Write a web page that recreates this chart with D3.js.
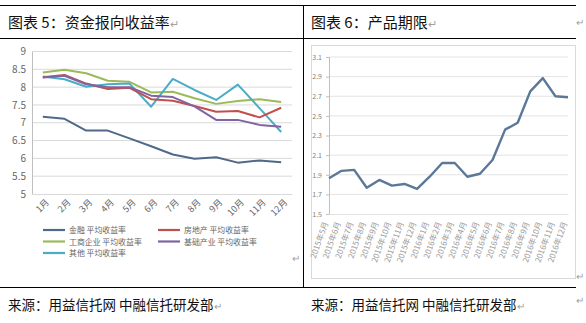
<!DOCTYPE html>
<html><head><meta charset="utf-8">
<script src="https://cdn.jsdelivr.net/npm/d3@7"></script>
<style>
html,body{margin:0;padding:0;background:#fff;}
svg{display:block;}
text{font-family:"Noto Sans CJK SC","Noto Sans",sans-serif;}
</style></head><body>
<svg id="c" width="586" height="323"></svg>
<script>
// ---- Left chart data (图表5) ----
const months = ["1月","2月","3月","4月","5月","6月","7月","8月","9月","10月","11月","12月"];
const finance     = [7.17,7.11,6.78,6.78,6.56,6.34,6.11,5.99,6.03,5.88,5.94,5.89];
const realEstate  = [8.28,8.34,8.10,7.95,7.98,7.66,7.62,7.47,7.31,7.33,7.15,7.42];
const industrial  = [8.41,8.49,8.39,8.18,8.15,7.85,7.87,7.69,7.53,7.61,7.66,7.58];
const infra       = [8.27,8.32,8.08,8.00,8.00,7.76,7.72,7.46,7.08,7.08,6.94,6.89];
const others      = [8.30,8.22,8.01,8.08,8.10,7.45,8.23,7.92,7.64,8.07,7.41,6.74];
const seriesNames = ["金融 平均收益率","房地产 平均收益率","工商企业 平均收益率","基础产业 平均收益率","其他 平均收益率"];
const leftTicks = [5,5.5,6,6.5,7,7.5,8,8.5,9];

// ---- Right chart data (图表6) ----
const periods = ["2015年5月","2015年6月","2015年7月","2015年8月","2015年9月","2015年10月","2015年11月","2015年12月",
  "2016年1月","2016年2月","2016年3月","2016年4月","2016年5月","2016年6月","2016年7月","2016年8月",
  "2016年9月","2016年10月","2016年11月","2016年12月"];
const term = [1.864,1.94,1.95,1.768,1.847,1.789,1.806,1.755,1.88,2.02,2.02,1.88,1.91,2.05,2.36,2.43,2.75,2.885,2.70,2.69];
const rightTicks = [1.5,1.7,1.9,2.1,2.3,2.5,2.7,2.9,3.1];

const svg = d3.select("#c");
const colors = ["#50698A","#C0504D","#9BBB59","#8064A2","#4BACC6"];
const allSeries = [finance, realEstate, industrial, infra, others];

// ---- table frame ----
const frame = svg.append("g").attr("stroke","#000").attr("stroke-width",1);
frame.append("line").attr("x1",0).attr("x2",576).attr("y1",5.5).attr("y2",5.5);
frame.append("line").attr("x1",0).attr("x2",576).attr("y1",38.5).attr("y2",38.5);
frame.append("line").attr("x1",0).attr("x2",576).attr("y1",287.5).attr("y2",287.5);
frame.append("line").attr("x1",303.5).attr("x2",303.5).attr("y1",5).attr("y2",288);

function para(x,y,size,txt){
  const t = svg.append("text").attr("x",x).attr("y",y).attr("font-size",size).attr("fill","#111").text(txt);
  t.append("tspan").attr("fill","#A0A0A0").attr("font-size",size*0.75).text("↵");
  return t;
}
para(8,28,15,"图表 5：资金报向收益率");
para(311,28,15,"图表 6：产品期限");
para(8,310,13.5,"来源：用益信托网 中融信托研发部");
para(311,310,13.5,"来源：用益信托网 中融信托研发部");
const retMark = (x,y)=>svg.append("text").attr("x",x).attr("y",y).attr("font-size",10).attr("fill","#A0A0A0").text("↵");
retMark(576,26); retMark(576,304); retMark(292,262); retMark(576,280);

// ---- LEFT CHART ----
const xL = d3.scaleBand().domain(months).range([32,292]).padding(0);
const yL = d3.scaleLinear().domain([5,9]).range([194,51.5]);
const gL = svg.append("g");
gL.append("g").selectAll("line").data(leftTicks.slice(1)).join("line")
  .attr("x1",32).attr("x2",292).attr("y1",d=>yL(d)).attr("y2",d=>yL(d))
  .attr("stroke","#D9D9D9").attr("stroke-width",1);
const axL = gL.append("g").attr("transform","translate(32,0)")
  .call(d3.axisLeft(yL).tickValues(leftTicks).tickSize(0).tickPadding(6).tickFormat(d=>d));
axL.select(".domain").attr("stroke","#BFBFBF");
axL.selectAll("text").attr("font-size",10).attr("fill","#666").attr("font-family","Liberation Sans, Arial, sans-serif");
const axLB = gL.append("g").attr("transform","translate(0,194)")
  .call(d3.axisBottom(xL).tickSize(0).tickPadding(0));
axLB.select(".domain").attr("stroke","#D9D9D9");
axLB.selectAll("text").attr("font-size",9).attr("fill","#666")
  .attr("text-anchor","end").attr("dy",0)
  .attr("transform",d=>`translate(${xL.bandwidth()/2-4},9) rotate(-45)`)
  .attr("x",0).attr("y",0);

const lineL = d3.line().x((d,i)=>xL(months[i])+xL.bandwidth()/2).y(d=>yL(d));
[0,2,4,1,3].forEach(k=>{
  gL.append("path").datum(allSeries[k]).attr("d",lineL)
    .attr("fill","none").attr("stroke",colors[k]).attr("stroke-width",2).attr("stroke-linejoin","round");
});

// legend
const legPos = [[43,230],[158,230],[43,241.5],[158,241.5],[43,253]];
seriesNames.forEach((n,k)=>{
  const [lx,ly] = legPos[k];
  gL.append("line").attr("x1",lx).attr("x2",lx+22).attr("y1",ly).attr("y2",ly)
    .attr("stroke",colors[k]).attr("stroke-width",2.2);
  gL.append("text").attr("x",lx+26).attr("y",ly+3).attr("font-size",7.9).attr("fill","#666").text(n);
});

// ---- RIGHT CHART ----
const gR = svg.append("g");
gR.append("rect").attr("x",311.5).attr("y",45.5).attr("width",264).attr("height",233)
  .attr("fill","#fff").attr("stroke","#D9D9D9");
const xR = d3.scalePoint().domain(periods).range([329,568]);
const yR = d3.scaleLinear().domain([1.5,3.1]).range([214,57]);
gR.append("g").selectAll("line").data(rightTicks.slice(1)).join("line")
  .attr("x1",329).attr("x2",568).attr("y1",d=>yR(d)).attr("y2",d=>yR(d))
  .attr("stroke","#E3E3E3").attr("stroke-width",1);
const axR = gR.append("g").attr("transform","translate(329,0)")
  .call(d3.axisLeft(yR).tickValues(rightTicks).tickSize(3).tickPadding(4).tickFormat(d3.format(".1f")));
axR.selectAll(".domain,line").attr("stroke","#BFBFBF");
axR.selectAll("text").attr("font-size",7).attr("fill","#7F7F7F").attr("font-family","Liberation Sans, Arial, sans-serif");
const axRB = gR.append("g").attr("transform","translate(0,214)")
  .call(d3.axisBottom(xR).tickSize(0).tickPadding(0));
axRB.select(".domain").attr("stroke","#E3E3E3");
axRB.selectAll("text").attr("font-size",8).attr("fill","#999")
  .attr("text-anchor","end").attr("dy",0).attr("x",0).attr("y",0)
  .attr("transform","translate(-1,9) rotate(-70)");
gR.append("path").datum(term)
  .attr("d",d3.line().x((d,i)=>xR(periods[i])).y(d=>yR(d)))
  .attr("fill","none").attr("stroke","#5B7898").attr("stroke-width",2.4).attr("stroke-linejoin","round");
</script>
</body></html>
